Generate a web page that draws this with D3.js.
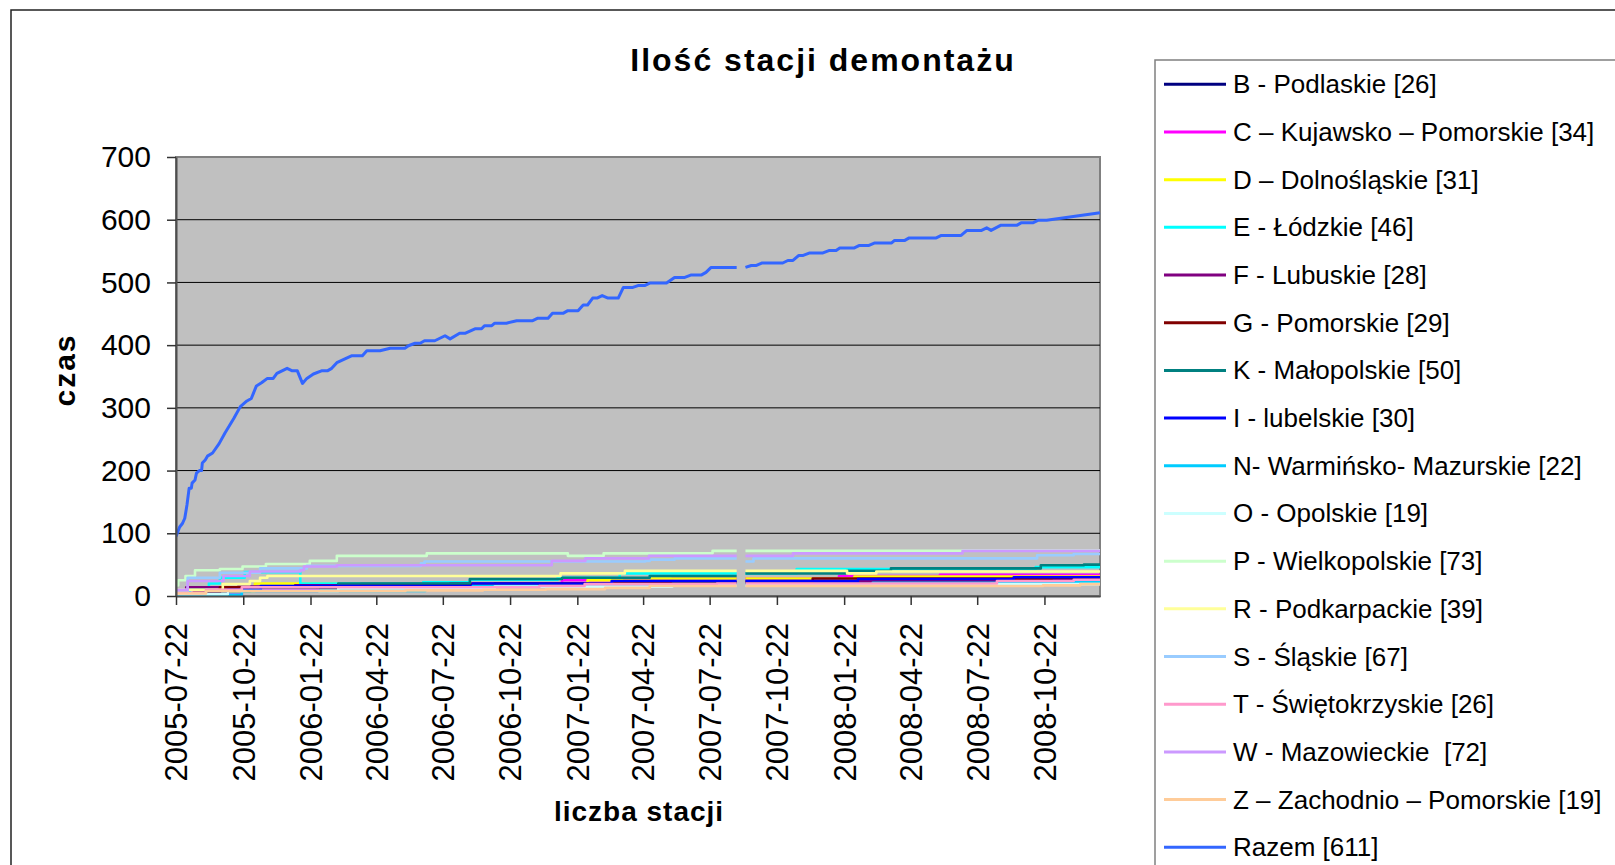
<!DOCTYPE html>
<html>
<head>
    <meta charset="utf-8">
    <title>Ilość stacji demontażu</title>
    <style>
        body { margin: 0; background: #fff; }
        #chart { display: block; font-family: "Liberation Sans", Arial, sans-serif; }
        #chart text { white-space: pre; }
    </style>
</head>
<body>
<svg id="chart" width="1615" height="865"></svg>
<script src="https://d3js.org/d3.v7.min.js"></script>
<script>

// dates where the series change value (null = missing day)
let dataB = [["2005-07-22",2],["2005-10-01",8],["2006-02-01",13],["2006-09-01",17],["2007-04-01",20],["2007-08-28",20],["2007-09-03",null],["2007-09-09",20],["2007-12-01",23],["2008-08-01",26],["2009-01-06",26]];
let dataC = [["2005-07-22",0],["2005-09-05",2],["2005-10-20",10],["2006-02-01",15],["2006-06-01",20],["2007-01-01",25],["2007-06-01",28],["2007-08-28",28],["2007-09-03",null],["2007-09-09",28],["2008-01-15",32],["2008-06-01",34],["2009-01-06",34]];
let dataD = [["2005-07-22",2],["2005-09-20",8],["2005-11-07",20],["2007-02-05",25],["2007-03-24",28],["2007-08-28",28],["2007-09-03",null],["2007-09-09",28],["2008-02-05",31],["2009-01-06",31]];
let dataE = [["2005-07-22",3],["2005-08-10",10],["2005-09-05",20],["2005-09-20",29],["2005-10-24",38],["2006-01-08",20],["2006-06-25",22],["2006-08-28",26],["2006-12-26",29],["2007-03-21",36],["2007-08-28",36],["2007-09-03",null],["2007-09-09",36],["2007-11-18",43],["2008-10-10",46],["2009-01-06",46]];
let dataF = [["2005-07-22",5],["2005-08-05",14],["2005-10-15",15],["2006-01-01",17],["2006-04-01",19],["2006-08-01",20],["2007-04-01",22],["2007-08-28",22],["2007-09-03",null],["2007-09-09",24],["2008-09-01",26],["2008-12-01",28],["2009-01-06",28]];
let dataG = [["2005-07-22",2],["2005-08-15",5],["2005-09-20",14],["2006-04-01",18],["2006-10-01",20],["2007-03-15",21],["2007-08-28",21],["2007-09-03",null],["2007-09-09",21],["2007-12-10",28],["2008-11-01",29],["2009-01-06",29]];
let dataK = [["2005-07-22",3],["2005-09-01",8],["2005-11-01",14],["2006-03-01",20],["2006-08-28",27],["2007-01-01",29],["2007-05-01",32],["2007-08-28",32],["2007-09-03",null],["2007-09-09",36],["2008-01-26",40],["2008-03-26",44],["2008-10-17",49],["2008-12-15",50],["2009-01-06",50]];
let dataI = [["2005-07-22",0],["2005-08-20",3],["2005-10-01",10],["2005-11-15",16],["2006-09-01",20],["2007-03-10",24],["2007-08-28",24],["2007-09-03",null],["2007-09-09",24],["2008-02-10",27],["2008-09-10",30],["2009-01-06",30]];
let dataN = [["2005-07-22",0],["2005-09-10",2],["2005-10-20",8],["2006-06-28",11],["2006-09-01",16],["2007-06-01",19],["2007-08-28",19],["2007-09-03",null],["2007-09-09",19],["2008-03-01",21],["2008-11-01",22],["2009-01-06",22]];
let dataO = [["2005-07-22",3],["2005-10-01",8],["2006-03-01",12],["2006-10-01",15],["2007-06-01",17],["2007-08-28",17],["2007-09-03",null],["2007-09-09",17],["2008-08-10",19],["2009-01-06",19]];
let dataP = [["2005-07-22",17],["2005-07-25",25],["2005-08-04",32],["2005-08-17",41],["2005-09-20",43],["2005-10-21",47],["2005-11-22",51],["2006-01-21",56],["2006-02-27",64],["2006-06-30",68],["2007-01-09",64],["2007-02-27",68],["2007-07-26",72],["2007-08-28",72],["2007-09-03",null],["2007-09-09",72],["2008-07-02",73],["2009-01-06",73]];
let dataR = [["2005-07-22",10],["2005-09-24",19],["2005-10-31",24],["2005-11-14",29],["2005-11-24",32],["2006-12-30",36],["2007-03-28",40],["2007-08-28",40],["2007-09-03",null],["2007-09-09",40],["2008-01-26",36],["2008-03-06",39],["2009-01-06",39]];
let dataS = [["2005-07-22",8],["2005-08-07",29],["2005-09-20",37],["2005-11-14",44],["2006-01-17",48],["2006-06-22",52],["2006-06-27",55],["2007-04-25",56],["2007-05-01",58],["2007-06-04",60],["2007-08-28",60],["2007-09-03",null],["2007-09-09",55],["2007-09-20",60],["2008-10-12",65],["2008-12-01",67],["2009-01-06",67]];
let dataT = [["2005-07-22",5],["2005-09-01",10],["2005-10-20",14],["2006-12-01",16],["2007-02-01",19],["2007-08-01",20],["2007-08-28",20],["2007-09-03",null],["2007-09-09",20],["2008-08-18",24],["2008-12-01",26],["2009-01-06",26]];
let dataW = [["2005-07-22",10],["2005-08-07",24],["2005-09-25",32],["2005-10-31",39],["2006-01-08",41],["2006-01-13",47],["2006-02-27",49],["2006-12-18",56],["2007-02-02",60],["2007-04-30",64],["2007-08-28",64],["2007-09-03",null],["2007-09-09",64],["2007-11-13",68],["2008-07-02",72],["2009-01-06",72]];
let dataZ = [["2005-07-22",4],["2005-09-01",8],["2006-06-01",9],["2006-09-15",10],["2006-12-10",11],["2007-03-01",13],["2007-05-01",16],["2007-08-28",16],["2007-09-03",null],["2007-09-09",16],["2008-10-20",17],["2008-12-10",19],["2009-01-06",19]];

// total, drawn point to point
let dataRazem = [
    ["2005-07-22",95],["2005-07-27",110],["2005-07-31",116],["2005-08-03",124],["2005-08-06",145],["2005-08-09",172],
    ["2005-08-12",172],["2005-08-13",180],["2005-08-17",185],["2005-08-19",196],["2005-08-23",200],["2005-08-26",200],
    ["2005-08-27",212],["2005-08-31",217],["2005-09-03",223],["2005-09-10",228],["2005-09-19",243],["2005-09-27",260],
    ["2005-10-09",283],["2005-10-18",302],["2005-10-27",311],["2005-11-02",315],["2005-11-09",335],["2005-11-16",340],
    ["2005-11-24",347],["2005-12-02",347],["2005-12-07",355],["2005-12-21",363],["2005-12-28",359],["2006-01-04",359],
    ["2006-01-11",339],["2006-01-17",347],["2006-01-26",354],["2006-02-06",359],["2006-02-14",359],["2006-02-20",363],
    ["2006-02-27",372],["2006-03-19",383],["2006-04-03",383],["2006-04-09",391],["2006-04-27",391],["2006-05-11",395],
    ["2006-05-31",395],["2006-06-05",399],["2006-06-14",403],["2006-06-21",403],["2006-06-27",407],["2006-07-11",407],
    ["2006-07-25",415],["2006-08-01",410],["2006-08-14",419],["2006-08-22",419],["2006-09-04",426],["2006-09-13",426],
    ["2006-09-17",431],["2006-09-27",431],["2006-10-01",435],["2006-10-17",435],["2006-10-31",439],["2006-11-22",439],
    ["2006-11-29",443],["2006-12-13",443],["2006-12-19",451],["2007-01-03",451],["2007-01-09",455],["2007-01-23",455],
    ["2007-01-30",464],["2007-02-05",464],["2007-02-12",475],["2007-02-18",475],["2007-02-25",479],["2007-03-05",475],
    ["2007-03-19",475],["2007-03-26",492],["2007-04-08",492],["2007-04-15",495],["2007-04-24",495],["2007-05-01",499],
    ["2007-05-24",499],["2007-06-04",508],["2007-06-18",508],["2007-06-27",512],["2007-07-11",512],["2007-07-17",516],
    ["2007-07-24",524],["2007-08-28",524],["2007-09-03",null],["2007-09-09",524],["2007-09-17",527],["2007-09-24",527],
    ["2007-10-02",531],["2007-10-30",531],["2007-11-06",535],["2007-11-13",535],["2007-11-21",543],["2007-11-27",543],
    ["2007-12-06",547],["2007-12-24",547],["2008-01-02",551],["2008-01-11",551],["2008-01-16",555],["2008-02-05",555],
    ["2008-02-12",559],["2008-02-25",559],["2008-03-04",563],["2008-03-27",563],["2008-03-31",567],["2008-04-14",567],
    ["2008-04-20",571],["2008-05-27",571],["2008-06-03",575],["2008-06-30",575],["2008-07-08",583],["2008-07-28",583],
    ["2008-08-04",587],["2008-08-10",583],["2008-08-23",591],["2008-09-14",591],["2008-09-20",595],["2008-10-06",595],
    ["2008-10-13",599],["2008-10-25",599],["2009-01-06",611]
];

let seriesNames = [
    "B - Podlaskie [26]", "C – Kujawsko – Pomorskie [34]", "D – Dolnośląskie [31]", "E - Łódzkie [46]",
    "F - Lubuskie [28]", "G - Pomorskie [29]", "K - Małopolskie [50]", "I - lubelskie [30]",
    "N- Warmińsko- Mazurskie [22]", "O - Opolskie [19]", "P - Wielkopolskie [73]", "R - Podkarpackie [39]",
    "S - Śląskie [67]", "T - Świętokrzyskie [26]", "W - Mazowieckie  [72]", "Z – Zachodnio – Pomorskie [19]",
    "Razem [611]"
];
let seriesData = [dataB, dataC, dataD, dataE, dataF, dataG, dataK, dataI, dataN, dataO, dataP, dataR, dataS, dataT, dataW, dataZ, dataRazem];
let seriesColors = ["#000080", "#ff00ff", "#ffff00", "#00ffff", "#800080", "#800000", "#008080", "#0000ff",
    "#00ccff", "#ccffff", "#ccffcc", "#ffff99", "#99ccff", "#ff99cc", "#cc99ff", "#ffcc99", "#3366ff"];

let xTickLabels = ["2005-07-22","2005-10-22","2006-01-22","2006-04-22","2006-07-22","2006-10-22","2007-01-22",
    "2007-04-22","2007-07-22","2007-10-22","2008-01-22","2008-04-22","2008-07-22","2008-10-22"];
let yTicks = [0, 100, 200, 300, 400, 500, 600, 700];

let parseDate = d3.timeParse("%Y-%m-%d");
let svg = d3.select("#chart");

// frame of the whole chart
svg.append("rect")
    .attr("x", 11).attr("y", 10).attr("width", 1700).attr("height", 900)
    .attr("fill", "#fff").attr("stroke", "#222").attr("stroke-width", 1.5);

let plot = {left: 176, right: 1100, top: 157, bottom: 596};

let x = d3.scaleTime()
    .domain([parseDate("2005-07-22"), parseDate("2009-01-06")])
    .range([plot.left, plot.right]);
let y = d3.scaleLinear().domain([0, 700]).range([plot.bottom, plot.top]);

svg.append("rect")
    .attr("x", plot.left).attr("y", plot.top)
    .attr("width", plot.right - plot.left).attr("height", plot.bottom - plot.top)
    .attr("fill", "#c0c0c0").attr("stroke", "#808080").attr("stroke-width", 2);

svg.append("g")
    .selectAll("line")
    .data(yTicks.filter(v => v > 0 && v < 700))
    .join("line")
    .attr("x1", plot.left).attr("x2", plot.right)
    .attr("y1", d => y(d)).attr("y2", d => y(d))
    .attr("stroke", "#000").attr("stroke-width", 1);

svg.append("defs").append("clipPath").attr("id", "clip")
    .append("rect")
    .attr("x", plot.left).attr("y", plot.top - 4)
    .attr("width", plot.right - plot.left + 2).attr("height", plot.bottom - plot.top + 4);

let stepLine = d3.line()
    .defined(d => d[1] !== null)
    .x(d => x(parseDate(d[0])))
    .y(d => y(d[1]))
    .curve(d3.curveStepAfter);
let straightLine = d3.line()
    .defined(d => d[1] !== null)
    .x(d => x(parseDate(d[0])))
    .y(d => y(d[1]));

let lastIdx = seriesData.length - 1;
svg.append("g").attr("clip-path", "url(#clip)")
    .selectAll("path")
    .data(seriesData)
    .join("path")
    .attr("d", (d, i) => i === lastIdx ? straightLine(d) : stepLine(d))
    .attr("fill", "none")
    .attr("stroke", (d, i) => seriesColors[i])
    .attr("stroke-width", (d, i) => i === lastIdx ? 3 : 2.6)
    .attr("stroke-linejoin", "round");

// axes
let yAxis = svg.append("g")
    .attr("transform", `translate(${plot.left},0)`)
    .call(d3.axisLeft(y).tickValues(yTicks).tickSize(9).tickSizeOuter(0).tickPadding(16));
yAxis.selectAll("text").attr("font-size", 30).attr("font-family", "Liberation Sans, Arial, sans-serif").attr("fill", "#000");
yAxis.selectAll("line").attr("stroke", "#333").attr("stroke-width", 1.5);
yAxis.select(".domain").attr("stroke", "#4d4d4d").attr("stroke-width", 2);

let xAxis = svg.append("g")
    .attr("transform", `translate(0,${plot.bottom})`)
    .call(d3.axisBottom(x)
        .tickValues(xTickLabels.map(parseDate))
        .tickFormat(d3.timeFormat("%Y-%m-%d"))
        .tickSize(9).tickSizeOuter(0));
xAxis.selectAll("text")
    .attr("font-size", 31).attr("font-family", "Liberation Sans, Arial, sans-serif").attr("fill", "#000")
    .attr("transform", "rotate(-90)")
    .attr("x", -27).attr("y", 0).attr("dy", "0.35em")
    .style("text-anchor", "end");
xAxis.selectAll("line").attr("stroke", "#333").attr("stroke-width", 1.5);
xAxis.select(".domain").attr("stroke", "#4d4d4d").attr("stroke-width", 2);

// titles
svg.append("text")
    .attr("x", 823).attr("y", 71)
    .attr("text-anchor", "middle")
    .attr("font-size", 32).attr("font-weight", "bold").attr("letter-spacing", 2)
    .text("Ilość stacji demontażu");

svg.append("text")
    .attr("transform", "translate(75,370) rotate(-90)")
    .attr("text-anchor", "middle")
    .attr("font-size", 30).attr("font-weight", "bold").attr("letter-spacing", 2)
    .text("czas");

svg.append("text")
    .attr("x", 639).attr("y", 821)
    .attr("text-anchor", "middle")
    .attr("font-size", 28).attr("font-weight", "bold").attr("letter-spacing", 1)
    .text("liczba stacji");

// legend
let legend = svg.append("g");
legend.append("rect")
    .attr("x", 1155).attr("y", 60).attr("width", 600).attr("height", 900)
    .attr("fill", "#fff").attr("stroke", "#808080").attr("stroke-width", 1.5);

let rowY = d3.scaleLinear().domain([0, seriesNames.length - 1]).range([84.3, 847.3]);
let rows = legend.selectAll("g.row")
    .data(seriesNames)
    .join("g")
    .attr("class", "row")
    .attr("transform", (d, i) => `translate(0,${rowY(i)})`);
rows.append("line")
    .attr("x1", 1164).attr("x2", 1226)
    .attr("stroke", (d, i) => seriesColors[i])
    .attr("stroke-width", 3);
rows.append("text")
    .attr("x", 1233).attr("y", 9)
    .attr("font-size", 26)
    .attr("fill", "#000")
    .text(d => d);

</script>
</body>
</html>
